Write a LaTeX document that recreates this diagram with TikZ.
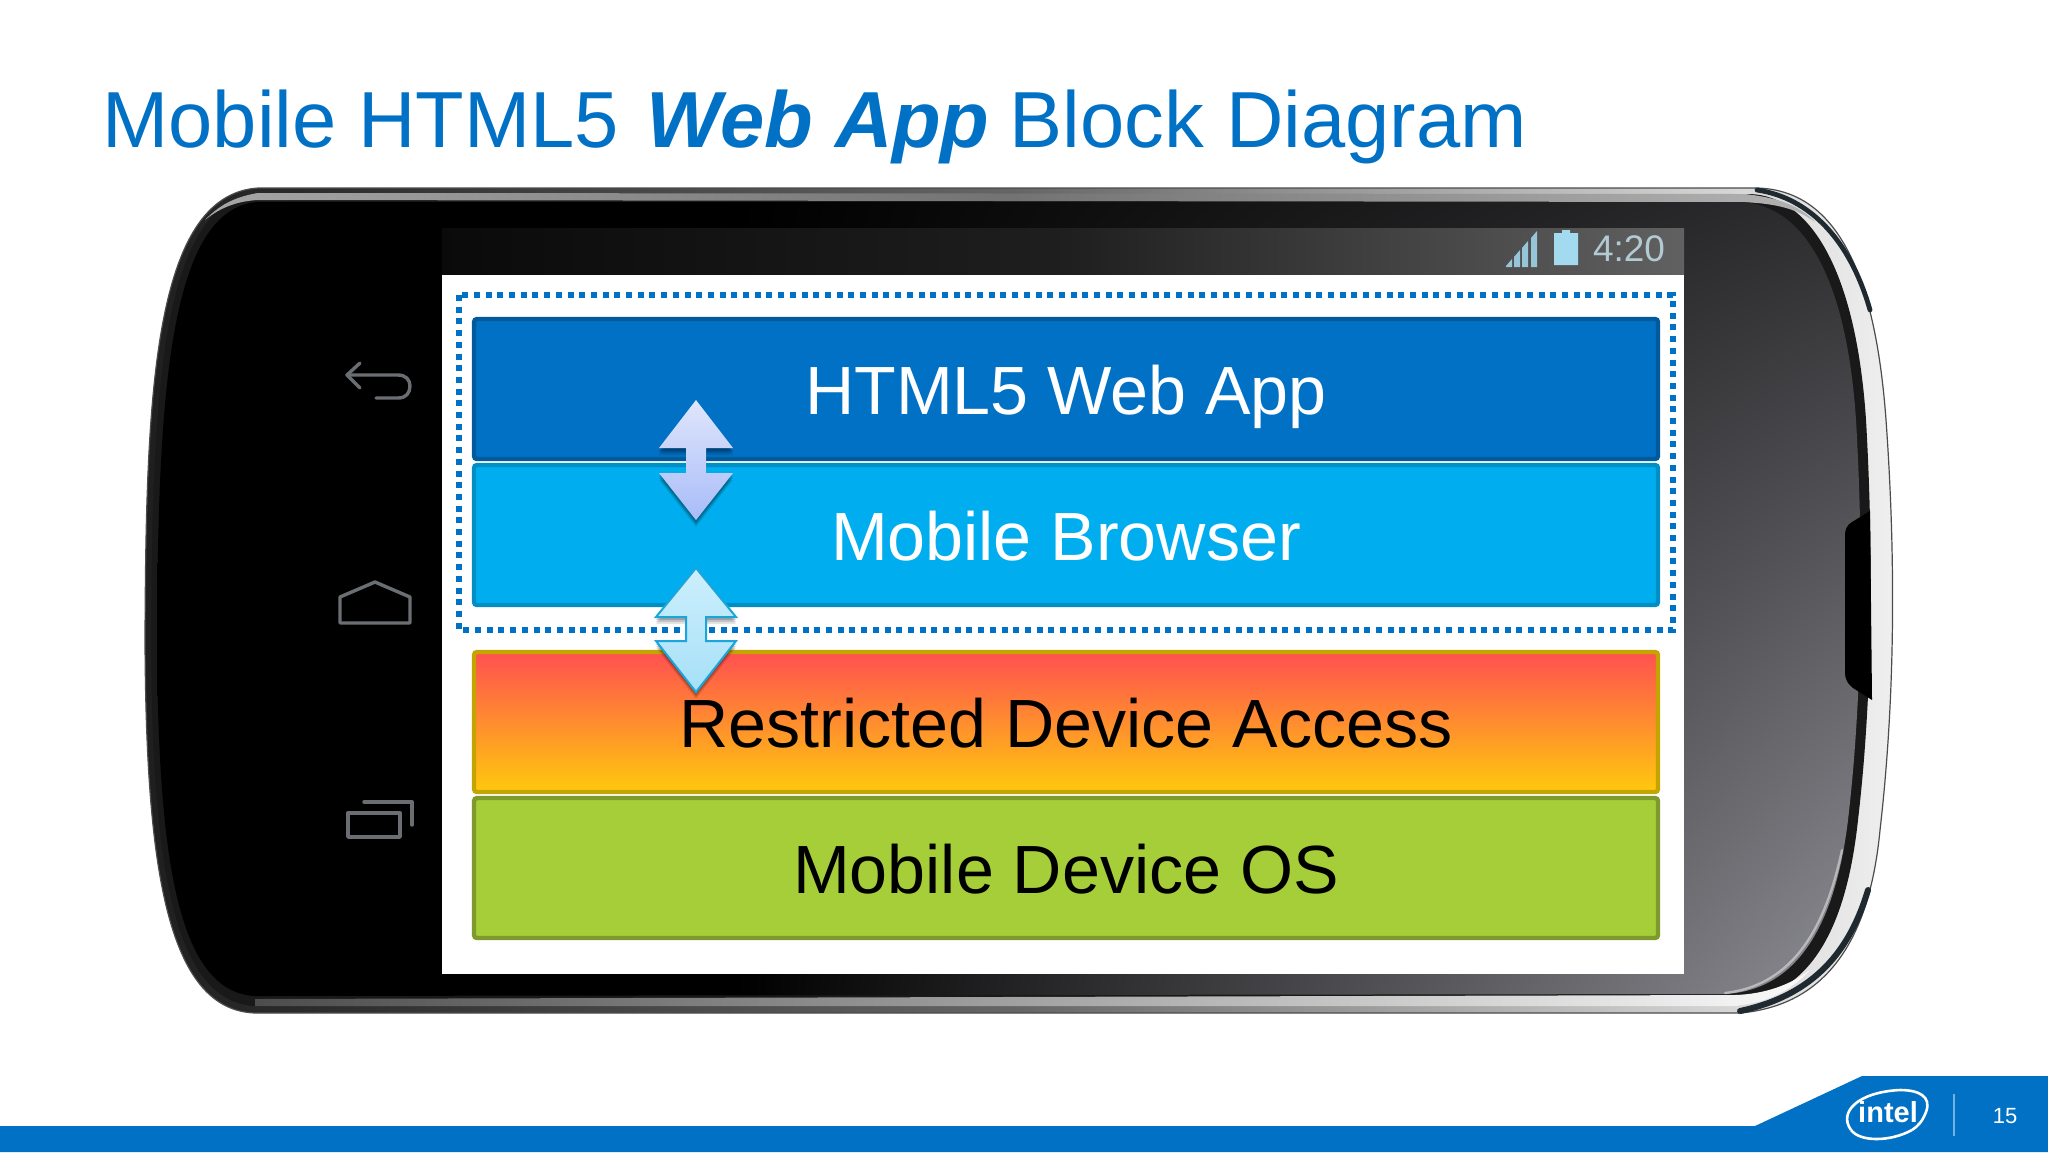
\documentclass[tikz,border=0pt]{standalone}
\usepackage{fontspec}
\setmainfont{Liberation Sans}
\usetikzlibrary{calc}
\definecolor{intelblue}{HTML}{0071C5}
\definecolor{appedge}{HTML}{005A9C}
\definecolor{brfill}{HTML}{00AEEF}
\definecolor{bredge}{HTML}{008FC4}
\definecolor{redtop}{HTML}{FF5050}
\definecolor{ambbot}{HTML}{FFC90D}
\definecolor{ambedge}{HTML}{C4A400}
\definecolor{osfill}{HTML}{A6CE39}
\definecolor{osedge}{HTML}{7F9A2C}
\definecolor{icongrey}{HTML}{6A6E72}
\definecolor{stat}{HTML}{A4DAF0}
\definecolor{clocktxt}{HTML}{B2CAD2}
\definecolor{rimdark}{HTML}{1E2A30}
\definecolor{arrAtop}{HTML}{DFE5FB}
\definecolor{arrAbot}{HTML}{A8BCF8}
\definecolor{arrBtop}{HTML}{CDEFFC}
\definecolor{arrBbot}{HTML}{A6E0F7}
\definecolor{arrBedge}{HTML}{1AA5DC}
\pgfdeclarefunctionalshading{phonebody}{\pgfpoint{0bp}{0bp}}{\pgfpoint{100bp}{100bp}}{}{
  75 exch sub 50 div 0.38 mul 0.18 add
  exch 42 sub 33 div dup 0 lt {pop 0} if
  mul dup dup 1.05 mul
}
\newcommand{\fs}[1]{\fontsize{#1pt}{#1pt}\selectfont}
\tikzset{
  x=0.5pt,y=-0.5pt,
  layer/.style={rectangle,inner sep=0pt,outer sep=0pt,rounded corners=1.5pt,line width=2.2pt,minimum width=592pt,minimum height=70pt,text height=25pt,text depth=0pt,align=center,font=\fs{34.1}},
  icon/.style={draw=icongrey,line width=1.7pt,line join=round,line cap=round},
}
% double arrow: #1 x, #2 top, #3 upper wing, #4 lower wing, #5 bottom, #6 half width
\newcommand{\dblarrow}[6]{(#1,#2) -- (#1+#6,#3) -- (#1+10,#3) -- (#1+10,#4) -- (#1+#6,#4) -- (#1,#5) -- (#1-#6,#4) -- (#1-10,#4) -- (#1-10,#3) -- (#1-#6,#3) -- cycle}
\begin{document}
\begin{tikzpicture}
\useasboundingbox (0,0) rectangle (2048,1152);
\fill[white] (0,0) rectangle (2048,1152);
% footer
\fill[intelblue] (0,1126) -- (1755,1126) -- (1862,1076) -- (2048,1076) -- (2048,1152) -- (0,1152) -- cycle;
\draw[white,line width=1.3pt] (1851,1130) .. controls (1838,1112) and (1858,1092) .. (1900,1090) .. controls (1918,1090) and (1932,1096) .. (1926,1112) .. controls (1922,1122) and (1918,1126) .. (1912,1130);
\draw[white,line width=1.3pt] (1851,1130) .. controls (1860,1142) and (1890,1142) .. (1912,1130);
\node[text=white,font=\bfseries\fs{14.5},inner sep=0pt] (intel) at (1888,1112) {intel};
\draw[white,opacity=.45,line width=1pt] (1954,1094) -- (1954,1136);
\node[text=white,font=\fs{11},inner sep=0pt] (pageno) at (2005,1116) {15};
% title
\node[anchor=base west,inner sep=0pt,text=intelblue,font=\fs{39.75}] (title) at (102,147) {Mobile HTML5 \hspace{2.6pt}\textbf{\textit{Web App}}\hspace{-1pt} Block Diagram};
% phone outer shell
\shade[left color=black!88,right color=black!6,middle color=black!60,draw=black!70,line width=.6pt]
  (258,188) -- (1757,188) .. controls (1835,190) and (1875,270) .. (1886,420) .. controls (1896,560) and (1895,700) .. (1880,830)
  .. controls (1870,935) and (1830,1005) .. (1740,1013) -- (255,1013) .. controls (165,1010) and (146,860) .. (145,640)
  .. controls (146,400) and (152,195) .. (258,188) -- cycle;
% dark corners of the rim
\draw[rimdark,line width=2.4pt,line cap=round] (1757,190) .. controls (1810,198) and (1850,240) .. (1870,310);
\draw[rimdark,line width=3pt,line cap=round] (1868,890) .. controls (1850,950) and (1815,995) .. (1740,1011);
% dark inner edge
\fill[black!90]
  (258,194) -- (1750,194) .. controls (1810,196) and (1856,270) .. (1866,420) .. controls (1874,560) and (1872,700) .. (1858,820)
  .. controls (1846,930) and (1810,998) .. (1730,1004) -- (255,1006) .. controls (172,1002) and (152,860) .. (151,640)
  .. controls (152,400) and (160,200) .. (258,194) -- cycle;
% light rim, top and bottom
\shade[left color=black!35,right color=black!30,middle color=black!55] (258,193) -- (1745,194) .. controls (1780,198) and (1800,206) .. (1815,222) .. controls (1795,207) and (1770,203) .. (1740,202) -- (258,200) .. controls (240,201) and (222,206) .. (205,220) .. controls (222,202) and (240,196) .. (258,193) -- cycle;
\shade[left color=black!70,right color=black!2] (255,999) -- (1735,995) .. controls (1765,994) and (1790,985) .. (1810,970) .. controls (1790,992) and (1765,1003) .. (1735,1006) -- (255,1006) -- cycle;
% body
\path[shading=phonebody,shading angle=0]
  (258,202) -- (1740,202) .. controls (1800,204) and (1846,270) .. (1856,420) .. controls (1864,560) and (1862,700) .. (1848,820)
  .. controls (1836,920) and (1800,990) .. (1725,994) -- (255,996) .. controls (178,992) and (158,860) .. (157,640)
  .. controls (158,400) and (168,208) .. (258,202) -- cycle;
\draw[white,opacity=.45,line width=1.2pt,line cap=round] (1842,850) .. controls (1826,925) and (1795,985) .. (1725,993);
% side notch
\fill[black] (1870,511) -- (1852,522) .. controls (1846,526) and (1845,530) .. (1845,536) -- (1845,672) .. controls (1845,680) and (1848,684) .. (1853,688) -- (1872,700) -- cycle;
% status bar
\shade[left color=black!96,right color=black!62,middle color=black!88] (442,228) rectangle (1684,276);
\fill[white] (442,275) rectangle (1684,974);
% status icons
\foreach \xa/\ya in {1506/266,1514/257,1522/248,1531/238}{
  \fill[stat,opacity=.85] (\xa,\ya) -- (\xa+6,\ya-7) -- (\xa+6,267) -- (\xa,267) -- cycle;
}
\fill[stat] (1554,233) -- (1562,233) -- (1562,230) -- (1570,230) -- (1570,233) -- (1578,233) -- (1578,265) -- (1554,265) -- cycle;
\node[text=clocktxt,font=\fs{18.5},inner sep=0pt] (clock) at (1629,249) {4:20};
% navigation icons
\draw[icon] (360,363) -- (347,375) -- (360,388);
\draw[icon] (347,375) -- (398,375) .. controls (406,375) and (410,380) .. (410,386) .. controls (410,393) and (406,398) .. (398,398) -- (376,398);
\draw[icon] (340,623) -- (340,597) -- (375,582) -- (410,597) -- (410,623) -- cycle;
\draw[icon] (348,813) rectangle (400,837);
\draw[icon] (364,802) -- (412,802) -- (412,825);
% layers
\node[layer,fill=intelblue,draw=appedge,text=white] (app) at (1066,389) {HTML5 Web App};
\node[layer,fill=brfill,draw=bredge,text=white] (browser) at (1066,535) {Mobile Browser};
\node[layer,top color=redtop,bottom color=ambbot,draw=ambedge,text=black] (access) at (1066,722) {Restricted Device Access};
\node[layer,fill=osfill,draw=osedge,text=black] (os) at (1066,868) {Mobile Device OS};
% dotted frame
\draw[intelblue,line width=3pt,dash pattern=on 3pt off 2.85pt] (459,295) rectangle (1673,630);
% arrows
\foreach \d/\o in {7/.10,5/.14,3/.18}{
  \fill[black,opacity=\o] \dblarrow{696}{400+\d}{448+\d}{473+\d}{520+\d}{37};
  \fill[black,opacity=\o] \dblarrow{696}{568+\d}{617+\d}{641+\d}{692+\d}{40};
}
\shade[top color=arrAtop,bottom color=arrAbot] \dblarrow{696}{400}{448}{473}{520}{37};
\shade[top color=arrBtop,bottom color=arrBbot,draw=arrBedge,line width=1pt] \dblarrow{696}{568}{617}{641}{692}{40};
\end{tikzpicture}
\end{document}
